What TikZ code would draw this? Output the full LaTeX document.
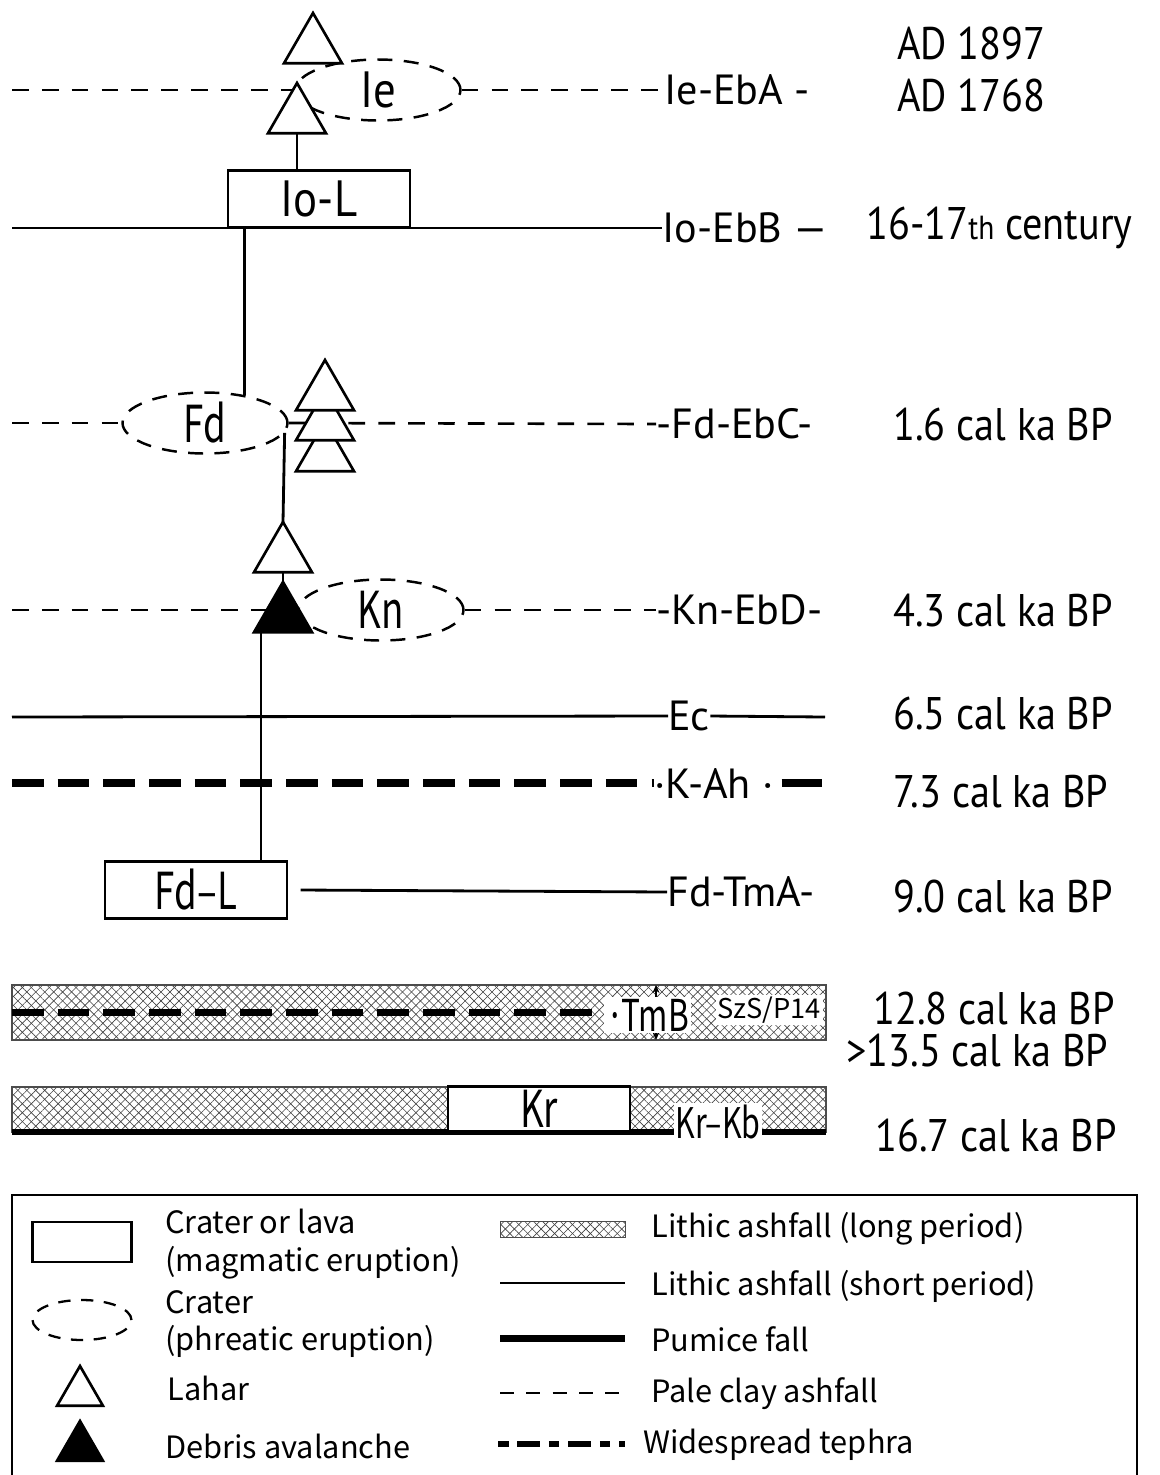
\documentclass[tikz,border=0pt]{standalone}
\usepackage{fontspec}
\setmainfont[FakeStretch=0.88]{PT Sans}
\newfontfamily\labelfamily{PT Sans}
\newfontfamily\gothic{Noto Sans CJK JP}
\newfontfamily\gothicnarrow[FakeStretch=0.72]{Noto Sans CJK JP}
\usetikzlibrary{arrows.meta,positioning,shapes.geometric,patterns.meta}
\newcommand\bigfont{\fontsize{29}{30}\selectfont}
\newcommand\labfont{\labelfamily\fontsize{24}{25}\selectfont}
\newcommand\agefont{\fontsize{26}{27}\selectfont}
\newcommand\legendfont{\gothic\fontsize{17.5}{21.5}\selectfont}
\tikzset{
  >={Stealth[length=1.6mm,width=1.4mm]},
  lava/.style={
    draw, rectangle, fill=white, line width=1.5pt, inner sep=0pt,
    minimum width=3.64cm, minimum height=1.14cm, font=\bigfont
  },
  phreatic/.style={
    draw, ellipse, line width=1.4pt, dash pattern=on 8.5pt off 6.5pt,
    inner sep=0pt, minimum width=3.3cm, minimum height=1.22cm, font=\bigfont
  },
  lahar/.style={
    draw, regular polygon, regular polygon sides=3, fill=white,
    line width=1.5pt, inner sep=0pt, outer sep=0pt, minimum size=1.34cm
  },
  debris/.style={lahar, fill=black},
  smalllahar/.style={lahar, minimum size=1.06cm},
  smalldebris/.style={debris, minimum size=1.06cm},
  lab/.style={anchor=west, inner sep=0pt, font=\labfont},
  age/.style={anchor=west, inner sep=0pt, font=\agefont},
  ash/.style={line width=1.6pt},
  clay/.style={line width=1.5pt, dash pattern=on 9.5pt off 7.5pt},
  tephra/.style={line width=4pt, dash pattern=on 18pt off 8pt},
  pumice/.style={line width=3.4pt},
  hatch/.style={
    draw=black!70, line width=0.6pt,
    preaction={pattern={Lines[angle=45,distance=3.6pt,line width=0.35pt]}, pattern color=black!75},
    pattern={Lines[angle=-45,distance=3.6pt,line width=0.35pt]}, pattern color=black!75
  },
  legtext/.style={anchor=west, inner sep=0pt, align=left, font=\legendfont},
}
\begin{document}
\begin{tikzpicture}[x=0.02cm, y=-0.02cm]
  \useasboundingbox (0,0) rectangle (1160,1475);

  % layer labels and ages
  \node[lab] (ieeba) at (664,90) {Ie-EbA -};
  \node[lab] (ioebb) at (662,228) {Io-EbB —};
  \node[lab] (fdebc) at (656,424) {-Fd-EbC-};
  \node[lab] (knebd) at (656,610) {-Kn-EbD-};
  \node[lab] (ec) at (668,716) {Ec};
  \node[lab] (kah) at (654,783) {·K-Ah ·};
  \node[lab] (fdtma) at (667,892) {Fd-TmA-};

  \node[age] (a1) at (897,44) {AD 1897};
  \node[age] (a2) at (897,96) {AD 1768};
  \node[age] (a3) at (866,228) {16-17{\fontsize{19}{20}\selectfont th} century};
  \node[age] (a4) at (893,425) {1.6 cal ka BP};
  \node[age] (a5) at (893,611) {4.3 cal ka BP};
  \node[age] (a6) at (893,713) {6.5 cal ka BP};
  \node[age] (a7) at (893,792) {7.3 cal ka BP};
  \node[age] (a8) at (893,896) {9.0 cal ka BP};
  \node[age] (a9) at (873,1008) {12.8 cal ka BP};
  \node[age] (a10) at (846,1050) {>13.5 cal ka BP};
  \node[age] (a11) at (875,1135) {16.7 cal ka BP};

  % craters
  \node[phreatic] (ie) at (378,90) {Ie};
  \node[phreatic, font=\gothicnarrow\bigfont] (fd) at (205,423) {Fd};
  \node[phreatic, font=\gothicnarrow\bigfont] (kn) at (381,610) {Kn};

  % horizons
  \draw[clay] (12,90) -- (ie.west);
  \draw[clay] (ie.east) -- (ieeba.west);
  \draw[ash] (12,228) -- (ioebb.west);
  \draw[clay] (12,423) -- (fd.west);
  \draw[clay] (fd.east) -- (fdebc.west);
  \draw[clay] (12,610) -- (kn.west);
  \draw[clay] (kn.east) -- (knebd.west);
  \draw[ash] (12,717) -- (ec.west);
  \draw[ash] (ec.east) -- (825,717);
  \draw[tephra] (12,783) -- (kah.west);
  \draw[line width=4pt] (kah.east) ++(8,0) -- (822,783);

  % lava and lahars
  \node[lava] (iol) at (319,199) {Io-L};
  \node[lava, font=\gothicnarrow\bigfont] (fdl) at (196,890) {Fd–L};
  \node[lahar, anchor=corner 1] (lah1) at (313,13) {};
  \node[lahar, anchor=corner 1] (lah2) at (297,83) {};
  \node[lahar, anchor=corner 1] (lah5) at (325,421) {};
  \node[lahar, anchor=corner 1] (lah4) at (325,390) {};
  \node[lahar, anchor=corner 1] (lah3) at (325,360) {};
  \node[lahar, anchor=corner 1] (lah6) at (283,522) {};
  \node[debris, anchor=corner 1] (deb) at (283,582) {};
  \coordinate (stem) at (261,632);

  \draw[ash] (lah2.south) -- (lah2.south |- iol.north);
  \draw[ash] (fd.35 |- iol.south) -- (fd.35);
  \draw[ash] (fd.-7) -- (lah6.corner 1);
  \draw[ash] (lah6.south) -- (deb.corner 1);
  \draw[ash] (stem) -- (stem |- fdl.north);
  \draw[ash] ([xshift=7]fdl.east) -- (fdtma.west);

  % TmB
  \draw[hatch] (12,985) rectangle (826,1040);
  \draw[tephra] (12,1012) -- (600,1012);
  \draw[<->, line width=0.8pt] (656,985) -- (656,1040);
  \node[anchor=west, fill=white, inner sep=1pt, font=\gothicnarrow\fontsize{25}{26}\selectfont] (tmb) at (604,1015) {·TmB};
  \node[anchor=east, fill=white, inner sep=1pt, font=\gothic\fontsize{15.5}{17}\selectfont] (szs) at (823,1010) {SzS/P14};

  % Kr
  \draw[hatch] (12,1087) rectangle (448,1132);
  \draw[hatch] (630,1087) rectangle (826,1132);
  \draw[pumice] (12,1132) -- (826,1132);
  \node[draw, fill=white, line width=1.2pt, inner sep=0pt, minimum width=3.64cm, minimum height=0.9cm,
    font=\gothicnarrow\bigfont] (kr) at (539,1109) {Kr};
  \node[fill=white, inner sep=1pt, font=\gothicnarrow\fontsize{24}{25}\selectfont] (krkb) at (718,1122) {Kr–Kb};

  % legend
  \draw[line width=1pt] (12,1480) |- (1137,1195) -- (1137,1480);
  \node[draw, line width=1.4pt, minimum width=1.98cm, minimum height=0.8cm, inner sep=0pt] (lglava) at (82,1242) {};
  \node[draw, ellipse, line width=1.3pt, dash pattern=on 7pt off 6pt, minimum width=1.98cm, minimum height=0.8cm, inner sep=0pt] (lgcrater) at (82,1320) {};
  \node[smalllahar, anchor=corner 1] (lglahar) at (80,1366) {};
  \node[smalldebris, anchor=corner 1] (lgdebris) at (80,1421) {};
  \node[legtext] (t1) at (165,1244) {Crater or lava\\(magmatic eruption)};
  \node[legtext] (t2) at (165,1324) {Crater\\(phreatic eruption)};
  \node[legtext] (t3) at (167,1388) {Lahar};
  \node[legtext] (t4) at (165,1446) {Debris avalanche};

  \draw[hatch, line width=0.5pt] (500,1221) rectangle (625,1237);
  \draw[ash] (500,1283) -- (625,1283);
  \draw[pumice, line width=4pt] (500,1338) -- (625,1338);
  \draw[clay, line width=1.2pt, dash pattern=on 8pt off 7pt] (500,1393) -- (625,1393);
  \draw[tephra, line width=3pt, dash pattern=on 6pt off 5pt on 13pt off 5pt] (498,1444) -- (625,1444);
  \node[legtext] (t5) at (651,1229) {Lithic ashfall (long period)};
  \node[legtext] (t6) at (651,1286) {Lithic ashfall (short period)};
  \node[legtext] (t7) at (651,1339) {Pumice fall};
  \node[legtext] (t8) at (651,1394) {Pale clay ashfall};
  \node[legtext] (t9) at (643,1445) {Widespread tephra};
\end{tikzpicture}
\end{document}
